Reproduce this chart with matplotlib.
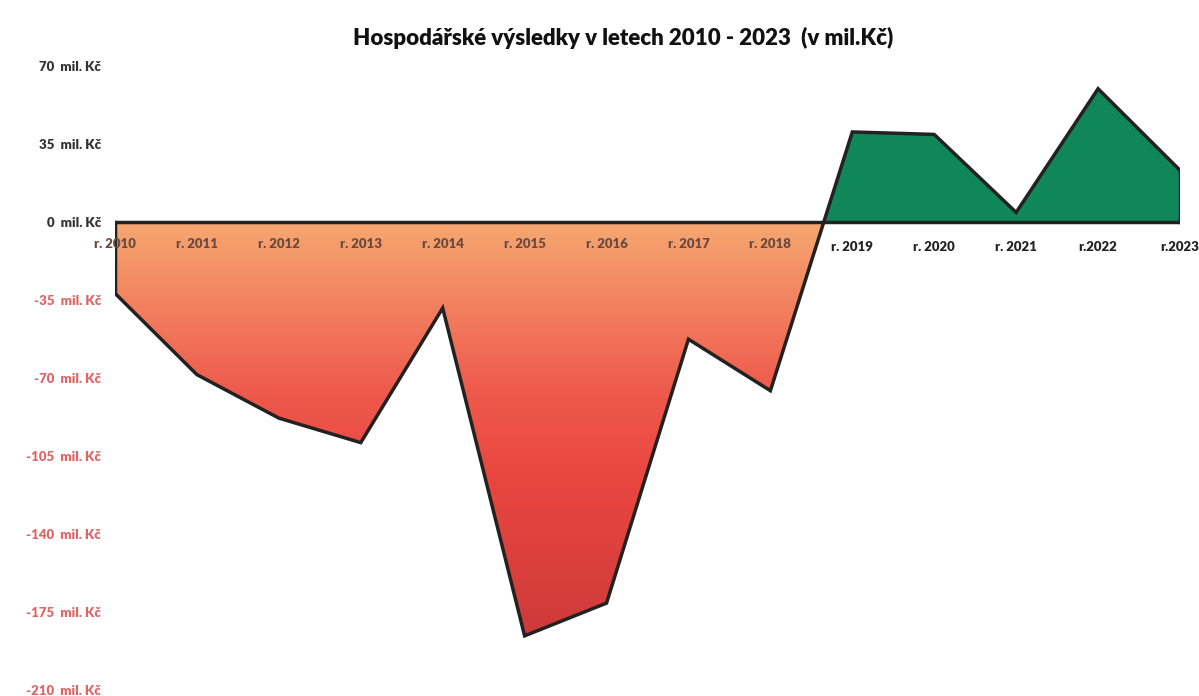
import matplotlib
matplotlib.use("Agg")
import matplotlib.pyplot as plt
import numpy as np
from matplotlib.colors import LinearSegmentedColormap

years = [2010, 2011, 2012, 2013, 2014, 2015, 2016, 2017, 2018, 2019, 2020, 2021, 2022, 2023]
year_labels = ["r. 2010", "r. 2011", "r. 2012", "r. 2013", "r. 2014", "r. 2015", "r. 2016",
               "r. 2017", "r. 2018", "r. 2019", "r. 2020", "r. 2021", "r.2022", "r.2023"]
values = [-32, -68.5, -88, -99, -38.6, -185.7, -171, -52.6, -75.7, 40.4, 39.3, 4.3, 59.8, 23.2]
yticks = [70, 35, 0, -35, -70, -105, -140, -175, -210]
ytick_labels = ["70  mil. Kč", "35  mil. Kč", "0  mil. Kč", "-35  mil. Kč", "-70  mil. Kč",
                "-105  mil. Kč", "-140  mil. Kč", "-175  mil. Kč", "-210  mil. Kč"]
title = "Hospodářské výsledky v letech 2010 - 2023  (v mil.Kč)"

plt.rcParams['font.family'] = ['Lato', 'DejaVu Sans']

fig = plt.figure(figsize=(11.99, 6.96), dpi=100)
ax = fig.add_axes([115/1199, 6/696, (1180-115)/1199, (690-66)/696])
x = np.array(years, dtype=float)
y = np.array(values, dtype=float)

ax.set_xlim(2010, 2023)
ax.set_ylim(-210, 70)

# negative area with gradient
neg = ax.fill_between(x, y, 0, where=y <= 0, interpolate=True, facecolor='none', edgecolor='none')
cmap = LinearSegmentedColormap.from_list("neg", [(0, '#f6a870'), (0.2, '#f28060'),
                                                 (0.4, '#ee5a4c'), (0.6, '#ea4640'),
                                                 (1, '#cc3a3a')])
grad = np.linspace(0, 1, 256).reshape(-1, 1)
im = ax.imshow(grad, cmap=cmap, aspect='auto', extent=[2010, 2023, -190, 0], origin='upper', zorder=1)
im.set_clip_path(neg.get_paths()[0], transform=ax.transData)

# positive area
ax.fill_between(x, y, 0, where=y >= 0, interpolate=True, facecolor='#0f875b', edgecolor='none', zorder=1)

# outline
ax.plot(x, y, color='#222222', lw=2.5, zorder=3, solid_joinstyle='miter')
ax.plot([2010, 2023], [0, 0], color='#222222', lw=2.5, zorder=3)
ax.plot([2010, 2010], [0, y[0]], color='#222222', lw=2.5, zorder=3)
ax.plot([2023, 2023], [0, y[-1]], color='#222222', lw=2.5, zorder=3)

# year labels
for xi, lab, v in zip(years, year_labels, values):
    col = '#6a4a3e' if xi <= 2018 else '#222222'
    ax.annotate(lab, xy=(xi, 0), xytext=(0, -22 if xi <= 2018 else -25), textcoords='offset pixels',
                ha='center', va='center', fontsize=9.5, fontweight='heavy', color=col, zorder=4)

ax.set_yticks(yticks)
ax.set_yticklabels(ytick_labels)
for t, v in zip(ax.get_yticklabels(), yticks):
    t.set_color('#e06666' if v < 0 else '#333333')
    t.set_fontweight('heavy')
    t.set_fontsize(9.5)
ax.tick_params(axis='y', length=0, pad=10)
ax.set_xticks([])
for s in ax.spines.values():
    s.set_visible(False)

fig.text(623/1199, 1-38/696, title, ha='center', va='center', fontsize=16, fontweight='heavy', color='#111111')

fig.savefig("out.png", dpi=100)
